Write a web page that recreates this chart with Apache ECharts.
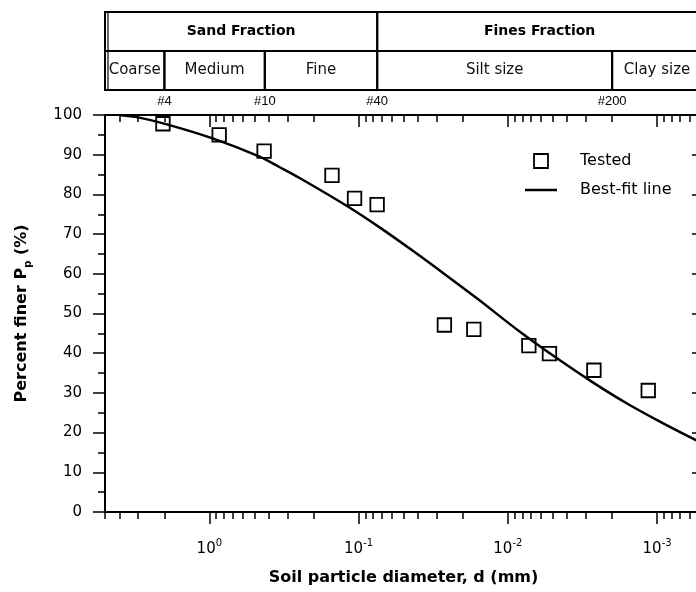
<!DOCTYPE html>
<html>
<head>
<meta charset="utf-8">
<script src="https://cdn.jsdelivr.net/npm/echarts@6/dist/echarts.min.js"></script>
<style>
html,body{margin:0;padding:0;background:#fff;}
#c{width:696px;height:592px;}
</style>
</head>
<body>
<div id="c"></div>
<script>
// ---- data ----
const testedD = [2.045, 0.859, 0.4295, 0.1507, 0.1064, 0.0751, 0.0266, 0.0169, 0.00723, 0.00526, 0.00265, 0.001146];
const testedP = [97.8, 95.0, 90.9, 84.8, 79.0, 77.4, 47.1, 46.0, 41.9, 39.9, 35.7, 30.6];

const fitD = [4, 3, 1.95, 0.95, 0.46, 0.34, 0.25, 0.121, 0.0723, 0.0433, 0.0258, 0.0162, 0.0083, 0.00448, 0.00268, 0.0016, 0.00095, 0.00057, 0.0005];
const fitP = [100, 99.4, 97.7, 94.1, 89.5, 86.9, 84.2, 77.2, 71.7, 65.8, 59.6, 53.9, 45.4, 38.2, 32.6, 27.4, 22.7, 18.4, 17.4];

const X_MIN = 0.0005, X_MAX = 5;
const majorTicks = [1, 0.1, 0.01, 0.001];
const minorTicks = [5, 4, 3, 2, 0.9, 0.8, 0.7, 0.6, 0.5, 0.4, 0.3, 0.2,
  0.09, 0.08, 0.07, 0.06, 0.05, 0.04, 0.03, 0.02,
  0.009, 0.008, 0.007, 0.006, 0.005, 0.004, 0.003, 0.002,
  0.0009, 0.0008, 0.0007, 0.0006, 0.0005];

const sieveSizes = [2, 0.425, 0.075, 0.002];
const sieveLabels = ['#4', '#10', '#40', '#200'];

const cellFrom  = [5, 2, 0.425, 0.075, 0.002, 5, 0.075];
const cellTo    = [2, 0.425, 0.075, 0.002, 0.0005, 0.075, 0.0005];
const cellRow   = [0, 0, 0, 0, 0, 1, 1];
const cellLabel = ['Coarse', 'Medium', 'Fine', 'Silt size', 'Clay size', 'Sand Fraction', 'Fines Fraction'];

// ---- chart ----
const chart = echarts.init(document.getElementById('c'), null, {renderer: 'canvas'});
const BLACK = '#000';
const FONT = 'DejaVu Sans';

function logAxis(extra) {
  return Object.assign({
    type: 'log', logBase: 10, min: X_MIN, max: X_MAX, inverse: true,
    splitLine: {show: false}, minorSplitLine: {show: false},
    axisLine: {show: false, onZero: false},
    axisTick: {show: false}, axisLabel: {show: false}
  }, extra);
}

function nearestIndex(arr, v) {
  let best = 0, bd = Infinity;
  arr.forEach((a, i) => { const d = Math.abs(Math.log10(a) - Math.log10(v)); if (d < bd) { bd = d; best = i; } });
  return best;
}

const option = {
  animation: false,
  backgroundColor: '#fff',
  grid: [
    {left: 105, top: 115, width: 597, height: 397, outerBoundsMode: 'none', containLabel: false},
    {left: 105, top: 12, width: 597, height: 78, outerBoundsMode: 'none', containLabel: false}
  ],
  xAxis: [
    logAxis({
      gridIndex: 0, position: 'bottom',
      axisLine: {show: true, onZero: false, lineStyle: {color: BLACK, width: 2}},
      axisTick: {show: true, customValues: majorTicks, length: 12, lineStyle: {color: BLACK, width: 1.5}},
      axisLabel: {
        show: true, customValues: majorTicks, margin: 26,
        fontFamily: FONT, fontSize: 15, color: BLACK, lineHeight: 22,
        formatter: v => '10{sup|' + Math.round(Math.log10(v)) + '}',
        rich: {sup: {fontFamily: FONT, fontSize: 10, color: BLACK, verticalAlign: 'top', lineHeight: 12}}
      },
      name: 'Soil particle diameter, d (mm)', nameLocation: 'middle', nameGap: 58,
      nameTextStyle: {fontFamily: FONT, fontWeight: 'bold', fontSize: 16, color: BLACK}
    }),
    logAxis({
      gridIndex: 0, position: 'bottom',
      axisTick: {show: true, customValues: minorTicks, length: 7, lineStyle: {color: BLACK, width: 1.5}}
    }),
    logAxis({
      gridIndex: 0, position: 'top',
      axisLine: {show: true, onZero: false, lineStyle: {color: BLACK, width: 2}},
      axisTick: {show: true, inside: true, customValues: majorTicks, length: 12, lineStyle: {color: BLACK, width: 1.5}},
      axisLabel: {
        show: true, customValues: sieveSizes, margin: 7,
        fontFamily: 'Liberation Sans', fontSize: 13, color: BLACK,
        formatter: v => sieveLabels[nearestIndex(sieveSizes, v)]
      }
    }),
    logAxis({
      gridIndex: 0, position: 'top',
      axisTick: {show: true, inside: true, customValues: minorTicks, length: 7, lineStyle: {color: BLACK, width: 1.5}}
    }),
    logAxis({gridIndex: 1, show: false})
  ],
  yAxis: [
    {
      type: 'value', gridIndex: 0, position: 'left', min: 0, max: 100, interval: 10,
      axisLine: {show: true, onZero: false, lineStyle: {color: BLACK, width: 2}},
      axisTick: {show: true, length: 12, lineStyle: {color: BLACK, width: 1.5}},
      minorTick: {show: true, splitNumber: 2, length: 7, lineStyle: {color: BLACK, width: 1.5}},
      splitLine: {show: false}, minorSplitLine: {show: false},
      axisLabel: {margin: 23, fontFamily: FONT, fontSize: 15, color: BLACK},
      name: 'Percent finer P{sub|p} (%)', nameLocation: 'middle', nameGap: 72, nameRotate: 90,
      nameTextStyle: {
        fontFamily: FONT, fontWeight: 'bold', fontSize: 16, color: BLACK, lineHeight: 22,
        rich: {sub: {fontFamily: FONT, fontWeight: 'bold', fontSize: 10, color: BLACK, verticalAlign: 'bottom', lineHeight: 12}}
      }
    },
    {
      type: 'value', gridIndex: 0, position: 'right', min: 0, max: 100, interval: 10,
      axisLine: {show: true, onZero: false, lineStyle: {color: BLACK, width: 2}},
      axisTick: {show: true, inside: true, length: 10, lineStyle: {color: BLACK, width: 1.5}},
      minorTick: {show: true, splitNumber: 2, length: 6, lineStyle: {color: BLACK, width: 1.5}},
      splitLine: {show: false}, axisLabel: {show: false}
    },
    {type: 'value', gridIndex: 1, min: 0, max: 2, show: false}
  ],
  legend: {
    orient: 'vertical', left: 520, top: 148, itemWidth: 32, itemHeight: 14, itemGap: 13,
    selectedMode: false,
    textStyle: {fontFamily: FONT, fontSize: 16, color: BLACK, padding: [0, 0, 0, 18]},
    data: [
      {name: 'Tested', icon: 'path://M0,0L14,0L14,14L0,14Z',
       itemStyle: {color: 'rgba(0,0,0,0)', borderColor: BLACK, borderWidth: 1.8}},
      {name: 'Best-fit line', icon: 'path://M0,0L32,0L32,2.5L0,2.5Z',
       itemStyle: {color: BLACK, borderWidth: 0}}
    ]
  },
  series: [
    {
      name: 'Best-fit line', type: 'line', xAxisIndex: 0, yAxisIndex: 0,
      data: fitD.map((d, i) => [d, fitP[i]]),
      smooth: 0.3, symbol: 'none', showSymbol: false,
      lineStyle: {color: BLACK, width: 2.5}, itemStyle: {color: BLACK}, z: 2
    },
    {
      name: 'Tested', type: 'scatter', xAxisIndex: 0, yAxisIndex: 0,
      data: testedD.map((d, i) => [d, testedP[i]]),
      symbol: 'rect', symbolSize: 13.5,
      itemStyle: {color: 'rgba(0,0,0,0)', borderColor: BLACK, borderWidth: 1.8, opacity: 1}, z: 3
    },
    {
      name: 'table', type: 'custom', xAxisIndex: 4, yAxisIndex: 2,
      data: cellFrom.map((f, i) => [f, cellTo[i], cellRow[i]]),
      renderItem: function (params, api) {
        const i = params.dataIndex;
        const row = api.value(2);
        const a = api.coord([api.value(0), row]);
        const b = api.coord([api.value(1), row + 1]);
        const x = Math.min(a[0], b[0]), y = Math.min(a[1], b[1]);
        const w = Math.abs(b[0] - a[0]), h = Math.abs(b[1] - a[1]);
        const header = row === 1;
        const children = [
          {type: 'rect', shape: {x: x, y: y, width: w, height: h},
           style: {fill: 'none', stroke: BLACK, lineWidth: 2}},
          {type: 'text', x: x + w / 2, y: y + h / 2,
           style: {text: cellLabel[i], align: 'center', verticalAlign: 'middle',
                   fontFamily: FONT, fontWeight: header ? 'bold' : 'normal',
                   fontSize: header ? 14 : 15, fill: header ? BLACK : '#111'}}
        ];
        if (api.value(0) === X_MAX) {
          children.push({type: 'line', shape: {x1: x + 3, y1: y, x2: x + 3, y2: y + h},
                         style: {stroke: BLACK, lineWidth: 1.2}});
        }
        return {type: 'group', children: children};
      },
      silent: true, z: 1
    }
  ]
};
chart.setOption(option);
</script>
</body>
</html>
